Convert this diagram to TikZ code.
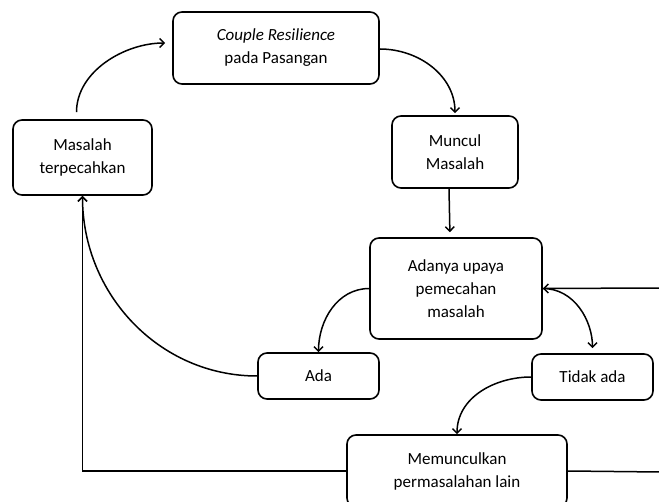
\documentclass[tikz,border=0pt]{standalone}
\usepackage{fontspec}
\setmainfont{Carlito}
\usetikzlibrary{arrows.meta,calc}
\begin{document}
\begin{tikzpicture}[x=1pt,y=1pt,
  box/.style={draw,line width=1.6pt,rounded corners=9pt,align=center,inner sep=0pt,
    font=\fontsize{17}{23}\selectfont},
  conn/.style={line width=1.5pt,-{Straight Barb[length=4.5pt,width=9pt,line width=1.5pt]}},
  plain/.style={line width=1.5pt}]
\useasboundingbox (0,0) rectangle (659,-502);
\node[box,minimum width=206pt,minimum height=72pt] (cr) at (276,-48) {\textit{Couple Resilience}\\pada Pasangan};
\node[box,minimum width=139pt,minimum height=75pt] (mt) at (82.5,-157.5) {Masalah\\terpecahkan};
\node[box,minimum width=126pt,minimum height=72pt] (mm) at (455,-152) {Muncul\\Masalah};
\node[box,minimum width=172pt,minimum height=101pt] (au) at (456,-288.5) {Adanya upaya\\pemecahan\\masalah};
\node[box,minimum width=121pt,minimum height=46pt] (ada) at (318.5,-376) {Ada};
\node[box,minimum width=121pt,minimum height=46pt] (ta) at (592.5,-377) {Tidak ada};
\node[box,minimum width=220pt,minimum height=72pt] (mp) at (457,-471) {Memunculkan\\permasalahan lain};
\coordinate (rin) at (660,-288);
\coordinate (rout) at (660,-472);
% connectors
\draw[conn,shorten <=7pt,shorten >=7pt] ([xshift=-6pt]mt.north) to[out=90,in=180] ([yshift=5pt]cr.west);
\draw[conn,shorten >=2pt] ([yshift=-1pt]cr.east) to[out=0,in=90] (mm.north);
\draw[conn,shorten >=5pt] ([xshift=-6pt]mm.south) -- ([xshift=-6pt]au.north);
\draw[conn] (au.west) to[out=180,in=90] (ada.north);
\draw[conn] (rin) -- (au.east);
\draw[conn,shorten >=5pt] (au.east) to[out=0,in=90] (ta.north);
\draw[conn] (ta.west) to[out=180,in=90] (mp.north);
\draw[conn] (ada.west) to[out=180,in=-90] (mt.south);
\draw[conn] (mp.west) -| (mt.south);
\draw[plain] (mp.east) -- (rout);
\end{tikzpicture}
\end{document}
